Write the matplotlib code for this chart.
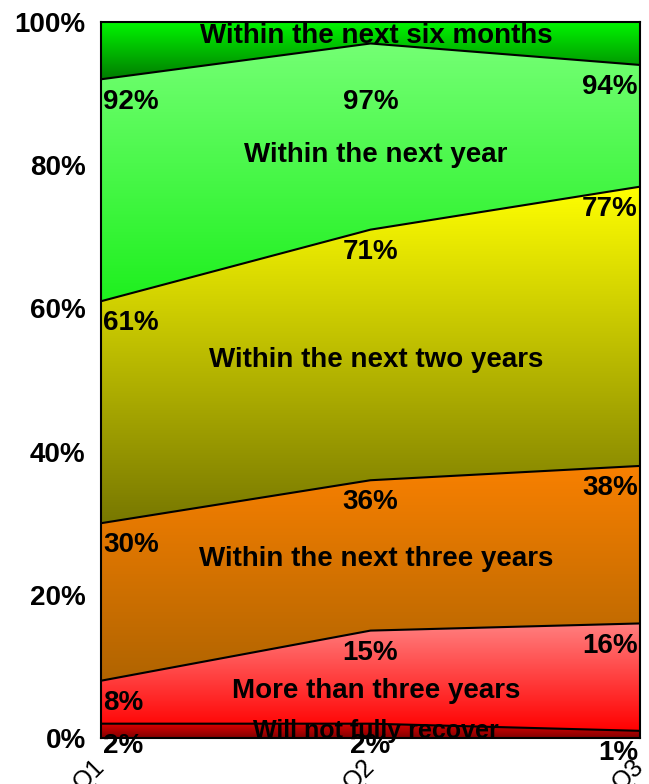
import matplotlib.pyplot as plt
import numpy as np
from matplotlib.colors import LinearSegmentedColormap

plt.rcParams['font.family'] = ['Liberation Sans', 'DejaVu Sans']

quarters = ['Q1', 'Q2', 'Q3']

# cumulative share (%) at the top edge of each band, lowest band first
will_not_recover = [2, 2, 1]
more_than_three = [8, 15, 16]
within_three = [30, 36, 38]
within_two = [61, 71, 77]
within_year = [92, 97, 94]
within_six_months = [100, 100, 100]

band_tops = [will_not_recover, more_than_three, within_three,
             within_two, within_year, within_six_months]
band_names = ['Will not fully recover', 'More than three years',
              'Within the next three years', 'Within the next two years',
              'Within the next year', 'Within the next six months']

# (top colour, bottom colour) of each band's vertical gradient
band_colors = [('#e00000', '#800000'),
               ('#ff8080', '#ff0000'),
               ('#f88000', '#b06400'),
               ('#ffff00', '#787800'),
               ('#74ff74', '#1ef01e'),
               ('#00f800', '#007c00')]

fig = plt.figure(figsize=(6.49, 7.84), dpi=100)
ax = fig.add_axes([101 / 649, 46 / 784, 539 / 649, 716 / 784])

x = np.arange(len(quarters))
lower = np.zeros(len(quarters))
for tops, (c_top, c_bot) in zip(band_tops, band_colors):
    upper = np.array(tops, dtype=float)
    poly = ax.fill_between(x, lower, upper, facecolor='none', edgecolor='none')
    cmap = LinearSegmentedColormap.from_list('band', [c_bot, c_top])
    grad = np.linspace(0, 1, 256).reshape(-1, 1)
    im = ax.imshow(grad, cmap=cmap, origin='lower', aspect='auto',
                   extent=[x[0], x[-1], lower.min(), upper.max()],
                   interpolation='bilinear', zorder=1)
    im.set_clip_path(poly.get_paths()[0], transform=ax.transData)
    if upper.max() < 100:
        ax.plot(x, upper, color='black', lw=1.5, zorder=3)
    lower = upper

# value labels under each boundary line
extra_drop = {(4, 1): 26}
for i, tops in enumerate(band_tops[:-1]):
    for j, v in enumerate(tops):
        ha = ['left', 'center', 'right'][j]
        dx = [1.5, 0, -1.5][j]
        dy = -16 - extra_drop.get((i, j), 0)
        ax.annotate(f'{v}%', (x[j], v), xytext=(dx, dy), textcoords='offset points',
                    ha=ha, va='center', fontsize=20, fontweight='bold',
                    annotation_clip=False, zorder=5)

# band names in the middle of each band at Q2
name_nudge = [0.0, -1.9, -0.5, -0.7, -2.6, -0.4]
prev = [0] * len(quarters)
for name, tops, dy, in zip(band_names, band_tops, name_nudge):
    mid = (prev[1] + tops[1]) / 2 + dy
    size = 18 if name.startswith('Will') else 20
    ax.text(1.02, mid, name, ha='center', va='center', fontsize=size,
            fontweight='bold', zorder=5)
    prev = tops

ax.set_xlim(x[0], x[-1])
ax.set_ylim(0, 100)
ax.set_yticks(range(0, 101, 20))
ax.set_yticklabels([f'{t}%' for t in range(0, 101, 20)], fontsize=20, fontweight='bold')
ax.set_xticks(x)
ax.set_xticklabels(quarters, rotation=45, ha='right', va='center',
                   rotation_mode='anchor', fontsize=18)
ax.tick_params(axis='y', length=0, pad=11)
ax.tick_params(axis='x', length=0, pad=18)
for s in ax.spines.values():
    s.set_linewidth(1.5)
    s.set_zorder(6)

fig.savefig('out.png', dpi=100)
